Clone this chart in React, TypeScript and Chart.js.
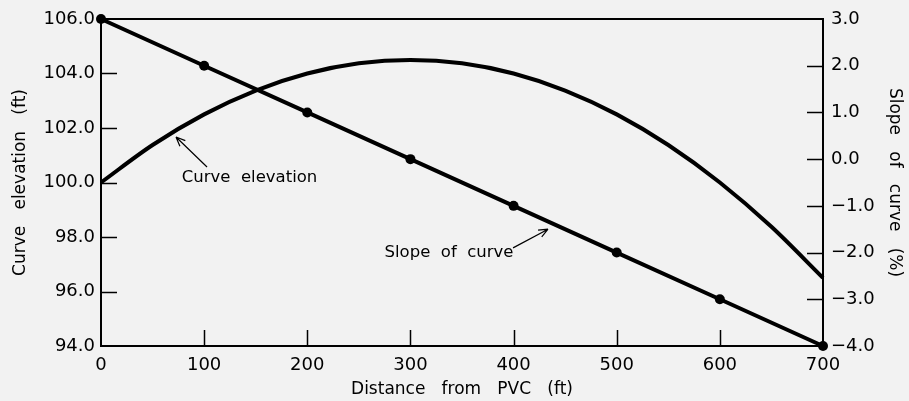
import React, { useEffect, useRef } from "react";
import { Chart, registerables } from "chart.js";

Chart.register(...registerables);

// Distance from PVC (ft)
const curveDistance = [0, 50, 100, 150, 200, 250, 300, 350, 400, 450, 500, 550, 600, 650, 700];
// Curve elevation (ft)
const curveElevation = [100.0, 101.375, 102.5, 103.375, 104.0, 104.375, 104.5, 104.375, 104.0, 103.375, 102.5, 101.375, 100.0, 98.375, 96.5];
// Slope of curve (%)
const slopeDistance = [0, 100, 200, 300, 400, 500, 600, 700];
const slopeValues = [3.0, 2.0, 1.0, 0.0, -1.0, -2.0, -3.0, -4.0];

const xTicks = [0, 100, 200, 300, 400, 500, 600, 700];
const leftTicks = [94, 96, 98, 100, 102, 104, 106];
const rightTicks = [-4, -3, -2, -1, 0, 1, 2, 3];

const FONT = "'DejaVu Sans', sans-serif";

const fmt = (v: number) => (v < 0 ? "\u2212" + Math.abs(v).toFixed(1) : v.toFixed(1));

const framePlugin = {
  id: "frame",
  beforeDraw(chart: any) {
    const { ctx } = chart;
    ctx.save();
    ctx.fillStyle = "#f2f2f2";
    ctx.fillRect(0, 0, chart.width, chart.height);
    ctx.restore();
  },
  afterDatasetsDraw(chart: any) {
    const { ctx, chartArea: a, scales } = chart;
    ctx.save();
    ctx.strokeStyle = "#000";
    ctx.lineWidth = 2;
    ctx.beginPath();
    ctx.moveTo(a.left, a.top);
    ctx.lineTo(a.right, a.top);
    ctx.lineTo(a.right, a.bottom);
    ctx.lineTo(a.left, a.bottom);
    ctx.closePath();
    ctx.stroke();
    const L = 16;
    ctx.lineWidth = 1.5;
    ctx.beginPath();
    xTicks.slice(1, -1).forEach((v) => {
      const x = Math.round(scales.x.getPixelForValue(v)) + 0.5;
      ctx.moveTo(x, a.bottom);
      ctx.lineTo(x, a.bottom - L);
    });
    leftTicks.slice(1, -1).forEach((v) => {
      const y = Math.round(scales.y.getPixelForValue(v)) + 0.5;
      ctx.moveTo(a.left, y);
      ctx.lineTo(a.left + L, y);
    });
    rightTicks.slice(1, -1).forEach((v) => {
      const y = Math.round(scales.y1.getPixelForValue(v)) + 0.5;
      ctx.moveTo(a.right, y);
      ctx.lineTo(a.right - L, y);
    });
    ctx.stroke();

    // annotations
    const arrow = (x1: number, y1: number, x2: number, y2: number) => {
      ctx.beginPath();
      ctx.lineWidth = 1.2;
      ctx.moveTo(x1, y1);
      ctx.lineTo(x2, y2);
      const ang = Math.atan2(y2 - y1, x2 - x1);
      const h = 10;
      ctx.moveTo(x2, y2);
      ctx.lineTo(x2 - h * Math.cos(ang - 0.4), y2 - h * Math.sin(ang - 0.4));
      ctx.moveTo(x2, y2);
      ctx.lineTo(x2 - h * Math.cos(ang + 0.4), y2 - h * Math.sin(ang + 0.4));
      ctx.stroke();
    };
    const sx = scales.x, sy = scales.y, sy1 = scales.y1;
    ctx.fillStyle = "#000";
    ctx.font = "16.5px " + FONT;
    ctx.textAlign = "center";
    ctx.textBaseline = "middle";
    ctx.fillText("Curve  elevation", sx.getPixelForValue(144), sy.getPixelForValue(100.17));
    arrow(sx.getPixelForValue(102.8), sy.getPixelForValue(100.57), sx.getPixelForValue(72.7), sy.getPixelForValue(101.67));
    ctx.fillText("Slope  of  curve", sx.getPixelForValue(337.4), sy1.getPixelForValue(-2.01));
    arrow(sx.getPixelForValue(399.5), sy1.getPixelForValue(-1.9), sx.getPixelForValue(433.4), sy1.getPixelForValue(-1.5));
    ctx.restore();
  },
};

export default function App() {
  const ref = useRef<HTMLCanvasElement | null>(null);
  useEffect(() => {
    document.body.style.margin = "0";
    document.body.style.background = "#f2f2f2";
    const chart = new Chart(ref.current!, {
      type: "line",
      data: {
        datasets: [
          {
            label: "Curve elevation",
            data: curveDistance.map((x, i) => ({ x, y: curveElevation[i] })),
            borderColor: "#000",
            borderWidth: 4,
            pointRadius: 0,
            cubicInterpolationMode: "monotone",
            yAxisID: "y",
            clip: false as any,
          },
          {
            label: "Slope of curve",
            data: slopeDistance.map((x, i) => ({ x, y: slopeValues[i] })),
            borderColor: "#000",
            backgroundColor: "#000",
            borderWidth: 4,
            pointRadius: 5,
            pointBackgroundColor: "#000",
            pointBorderWidth: 0,
            yAxisID: "y1",
            clip: false as any,
          },
        ],
      },
      plugins: [framePlugin],
      options: {
        animation: false,
        responsive: false,
        layout: { padding: { top: 19, left: 0, right: 0, bottom: 0 } },
        plugins: { legend: { display: false }, tooltip: { enabled: false } },
        scales: {
          x: {
            type: "linear",
            min: 0,
            max: 700,
            afterBuildTicks: (s: any) => { s.ticks = xTicks.map((v) => ({ value: v })); },
            afterFit: (s: any) => { s.height = 55; },
            grid: { display: false, drawTicks: false },
            border: { display: false },
            ticks: { color: "#000", font: { family: FONT, size: 18 }, padding: 9, maxRotation: 0, autoSkip: false },
            title: { display: true, text: "Distance   from   PVC   (ft)", color: "#000", font: { family: FONT, size: 17 }, padding: { top: 0, bottom: 1 } },
          },
          y: {
            position: "left",
            min: 94,
            max: 106,
            afterBuildTicks: (s: any) => { s.ticks = leftTicks.map((v) => ({ value: v })); },
            afterFit: (s: any) => { s.width = 101; },
            grid: { display: false, drawTicks: false },
            border: { display: false },
            ticks: { color: "#000", font: { family: FONT, size: 18 }, padding: 6, callback: (v: any) => fmt(Number(v)) },
            title: { display: true, text: "Curve   elevation   (ft)", color: "#000", font: { family: FONT, size: 17 }, padding: { top: 10, bottom: 0 } },
          },
          y1: {
            position: "right",
            min: -4,
            max: 3,
            afterBuildTicks: (s: any) => { s.ticks = rightTicks.map((v) => ({ value: v })); },
            afterFit: (s: any) => { s.width = 86; },
            grid: { display: false, drawTicks: false },
            border: { display: false },
            ticks: { color: "#000", font: { family: FONT, size: 18 }, padding: 8, callback: (v: any) => fmt(Number(v)) },
            title: { display: true, text: "Slope   of   curve   (%)", color: "#000", font: { family: FONT, size: 17 }, padding: { top: 4, bottom: 0 } },
          },
        },
      } as any,
    });
    return () => chart.destroy();
  }, []);
  return (
    <div style={{ position: "absolute", left: 0, top: 0, width: 909, height: 401, background: "#f2f2f2" }}>
      <canvas ref={ref} width={909} height={401} />
    </div>
  );
}
